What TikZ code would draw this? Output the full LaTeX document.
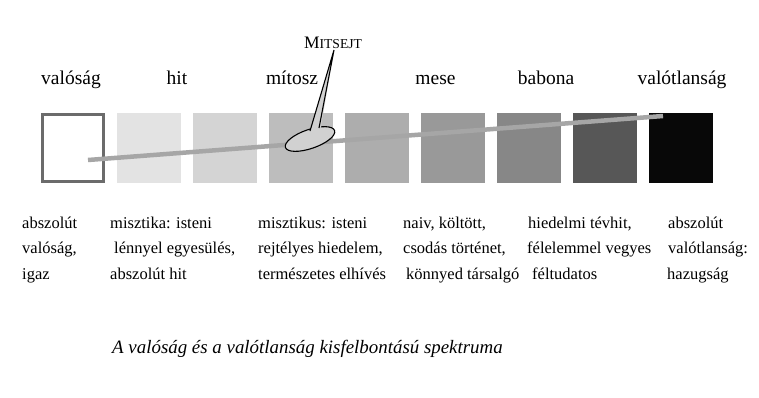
\documentclass[tikz,border=0pt]{standalone}
\usepackage{fontspec}
\setmainfont{Liberation Serif}
\begin{document}
\begin{tikzpicture}[x=1pt,y=-1pt,
  sq/.style={draw=none,minimum width=64pt,minimum height=70pt,inner sep=0pt},
  lab/.style={anchor=base,inner sep=0pt,font=\fontsize{19.5}{22}\selectfont},
  txt/.style={anchor=base west,inner sep=0pt,font=\fontsize{16.5}{19}\selectfont},
  captext/.style={anchor=base west,inner sep=0pt,font=\fontsize{18.9}{22}\selectfont\itshape}]
\useasboundingbox[fill=white] (0,0) rectangle (759,397);
% squares
\node[sq,fill=white,draw=black!58,line width=2.6pt,minimum width=61pt,minimum height=67pt] (s1) at (73,148) {};
\node[sq,fill=black!11] (s2) at (148.5,148) {};
\node[sq,fill=black!17] (s3) at (224.5,148) {};
\node[sq,fill=black!26] (s4) at (301,148) {};
\node[sq,fill=black!32] (s5) at (377,148) {};
\node[sq,fill=black!40] (s6) at (452.5,148) {};
\node[sq,fill=black!47] (s7) at (529,148) {};
\node[sq,fill=black!66] (s8) at (605,148) {};
\node[sq,fill=black!97] (s9) at (681,148) {};
% spectrum line
\coordinate (ls) at (88,160);
\coordinate (le) at (663,116);
\draw[line width=4.5pt,black!35] (ls) -- (le);
% callout
\coordinate (ec) at (310,139);
\draw[fill=black!18,line width=1.1pt,rotate around={19:(ec)}] (ec) ellipse [x radius=26pt, y radius=9.5pt];
\coordinate (tip) at (334,50);
\coordinate (bl) at (310,131);
\coordinate (br) at (319,128);
\fill[black!18] (309,135) -- (tip) -- (320,132) -- cycle;
\draw[line width=1.1pt] (bl) -- (tip) -- (br);
\node[anchor=base,inner sep=0pt] (mit) at (333,48) {{\fontsize{17.5}{19}\selectfont M}{\fontsize{13.6}{19}\selectfont ITSEJT}};
% top labels
\node[lab] (l1) at (71,84) {valóság};
\node[lab] (l2) at (177,84) {hit};
\node[lab] (l3) at (292,84) {mítosz};
\node[lab] (l4) at (435.5,84) {mese};
\node[lab] (l5) at (546,84) {babona};
\node[lab] (l6) at (682,84) {valótlanság};
% descriptions
\node[txt] (a1) at (22,228) {abszolút};
\node[txt] (a2) at (22,253.5) {valóság,};
\node[txt] (a3) at (22,279) {igaz};
\node[txt] (b1) at (110,228) {misztika: isteni};
\node[txt] (b2) at (114,253.5) {lénnyel egyesülés,};
\node[txt] (b3) at (110,279) {abszolút hit};
\node[txt] (c1) at (258,228) {misztikus: isteni};
\node[txt] (c2) at (258,253.5) {rejtélyes hiedelem,};
\node[txt] (c3) at (258,279) {természetes elhívés};
\node[txt] (d1) at (403,228) {naiv, költött,};
\node[txt] (d2) at (403,253.5) {csodás történet,};
\node[txt] (d3) at (406,279) {könnyed társalgó};
\node[txt] (e1) at (528,228) {hiedelmi tévhit,};
\node[txt] (e2) at (527,253.5) {félelemmel vegyes};
\node[txt] (e3) at (532,279) {féltudatos};
\node[txt] (f1) at (668,228) {abszolút};
\node[txt] (f2) at (668,253.5) {valótlanság:};
\node[txt] (f3) at (667,279) {hazugság};
% caption
\node[captext] (caption) at (112,353) {A valóság és a valótlanság kisfelbontású spektruma};
\end{tikzpicture}
\end{document}
